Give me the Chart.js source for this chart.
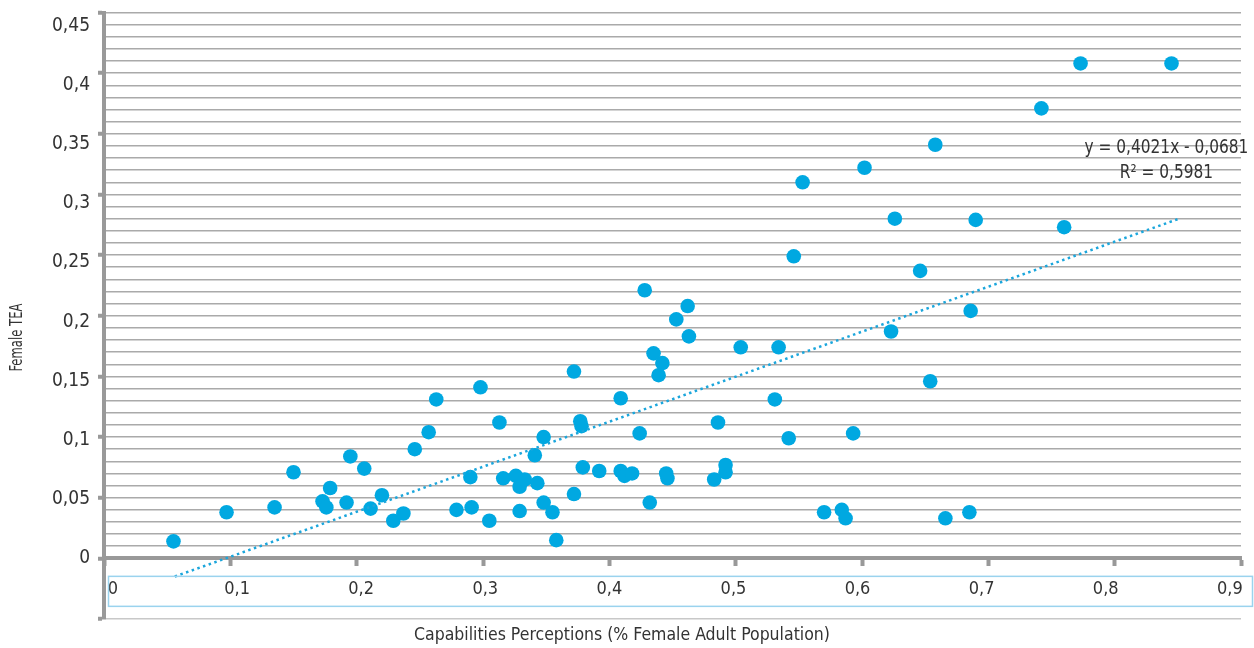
<!DOCTYPE html>
<html>
<head>
<meta charset="utf-8">
<script src="https://cdn.jsdelivr.net/npm/chart.js@4.4.1/dist/chart.umd.min.js"></script>
<style>
  html, body { margin: 0; padding: 0; background: #fff; }
  #wrap { width: 1254px; height: 648px; }
</style>
</head>
<body>
<div id="wrap"><canvas id="teaChart"></canvas></div>
<script>
// capabilities perceptions (x) vs female TEA (y), one entry per country
const capabilities = [
  0.055, 0.097, 0.135, 0.150, 0.173, 0.176, 0.179, 0.192, 0.195, 0.206,
  0.211, 0.220, 0.229, 0.237, 0.246, 0.257, 0.263, 0.279, 0.290, 0.291,
  0.298, 0.305, 0.313, 0.316, 0.326, 0.329, 0.329, 0.333, 0.341, 0.343,
  0.348, 0.348, 0.355, 0.358, 0.372, 0.372, 0.377, 0.378, 0.379, 0.392,
  0.409, 0.409, 0.412, 0.418, 0.424, 0.428, 0.432, 0.435, 0.439, 0.442,
  0.445, 0.446, 0.453, 0.462, 0.463, 0.483, 0.486, 0.492, 0.492, 0.504,
  0.531, 0.534, 0.542, 0.546, 0.553, 0.570, 0.584, 0.587, 0.593, 0.602,
  0.623, 0.626, 0.646, 0.654, 0.658, 0.666, 0.685, 0.686, 0.690, 0.742,
  0.760, 0.773, 0.845
];
const femaleTEA = [
  0.014, 0.038, 0.042, 0.071, 0.047, 0.042, 0.058, 0.046, 0.084, 0.074,
  0.041, 0.052, 0.031, 0.037, 0.090, 0.104, 0.131, 0.040, 0.067, 0.042,
  0.141, 0.031, 0.112, 0.066, 0.068, 0.059, 0.039, 0.065, 0.085, 0.062,
  0.100, 0.046, 0.038, 0.015, 0.154, 0.053, 0.113, 0.109, 0.075, 0.072,
  0.132, 0.072, 0.068, 0.070, 0.103, 0.221, 0.046, 0.169, 0.151, 0.161,
  0.070, 0.066, 0.197, 0.208, 0.183, 0.065, 0.112, 0.071, 0.077, 0.174,
  0.131, 0.174, 0.099, 0.249, 0.310, 0.038, 0.040, 0.033, 0.103, 0.322,
  0.187, 0.280, 0.237, 0.146, 0.341, 0.033, 0.038, 0.204, 0.279, 0.371,
  0.273, 0.408, 0.408
];

// trend line as drawn in the source chart
const trendX = [0.056, 0.851];
const trendY = [-0.015, 0.280];
const equationText = ['y = 0,4021x - 0,0681', 'R² = 0,5981'];

// tick label values (the printed labels sit on a slightly different spacing than the tick marks)
const xTickLabels = [0, 0.1, 0.2, 0.3, 0.4, 0.5, 0.6, 0.7, 0.8, 0.9];
const yTickLabels = [0, 0.05, 0.1, 0.15, 0.2, 0.25, 0.3, 0.35, 0.4, 0.45];

const xTitle = 'Capabilities Perceptions (% Female Adult Population)';
const yTitle = 'Female TEA';

const FONT = "'Liberation Sans Narrow', 'DejaVu Sans Condensed', sans-serif";
const comma = v => String(Math.round(v * 100) / 100).replace('.', ',');

const decor = {
  id: 'decor',
  afterDraw(chart) {
    const { ctx } = chart;
    const xs = chart.scales.x, ys = chart.scales.y;
    const x0 = xs.getPixelForValue(0), x9 = xs.getPixelForValue(0.9);
    const y0 = ys.getPixelForValue(0);
    ctx.save();
    // box around the x tick labels
    ctx.strokeStyle = '#9ad3ee';
    ctx.lineWidth = 1.5;
    ctx.strokeRect(x0 + 4.5, y0 + 18, x9 - x0 + 7, 30);
    ctx.fillStyle = '#333';
    ctx.textAlign = 'center';
    ctx.textBaseline = 'middle';
    // regression text (narrow face)
    ctx.save();
    ctx.font = '19px ' + FONT;
    ctx.translate(xs.getPixelForValue(0.841), 0);
    ctx.scale(0.9, 1);
    ctx.fillText(equationText[0], 0, ys.getPixelForValue(0.338));
    ctx.fillText(equationText[1], 0, ys.getPixelForValue(0.318));
    ctx.restore();
    // x axis title
    ctx.font = '17.5px ' + FONT;
    ctx.fillText(xTitle, xs.getPixelForValue(0.41), 635);
    // y axis title
    ctx.font = '17px ' + FONT;
    ctx.translate(18, ys.getPixelForValue(0.182));
    ctx.rotate(-Math.PI / 2);
    ctx.scale(0.76, 1);
    ctx.fillText(yTitle, 0, 0);
    ctx.restore();
  }
};

new Chart(document.getElementById('teaChart'), {
  type: 'scatter',
  data: {
    datasets: [{
      type: 'line',
      data: trendX.map((x, i) => ({ x: x, y: trendY[i] })),
      borderColor: '#1ba6dc',
      borderWidth: 2.5,
      borderDash: [2.5, 3.5],
      pointRadius: 0,
      fill: false
    }, {
      data: capabilities.map((x, i) => ({ x: x, y: femaleTEA[i] })),
      backgroundColor: '#00a8e1',
      borderWidth: 0,
      pointRadius: 7.3,
      pointHoverRadius: 7.3
    }]
  },
  options: {
    responsive: true,
    maintainAspectRatio: false,
    animation: false,
    devicePixelRatio: 1,
    layout: { padding: { top: 12.5, right: 13, bottom: 29, left: 0 } },
    plugins: { legend: { display: false }, tooltip: { enabled: false } },
    scales: {
      x: {
        type: 'linear',
        min: 0,
        max: 0.9,
        position: { y: 0 },
        ticks: { stepSize: 0.1, display: false },
        grid: { drawOnChartArea: false, drawTicks: true, tickLength: 6, tickWidth: 4, tickColor: '#999' },
        border: { display: true, color: '#999', width: 4 }
      },
      // labels only
      xl: {
        type: 'linear',
        axis: 'x',
        min: -0.00725,
        max: 0.909,
        position: { y: 0 },
        afterBuildTicks: s => { s.ticks = xTickLabels.map(v => ({ value: v })); },
        afterFit: s => { s.paddingLeft = 0; s.paddingRight = 0; },
        ticks: {
          padding: 20,
          maxRotation: 0,
          autoSkip: false,
          color: '#333',
          font: { family: FONT, size: 18 },
          callback: v => comma(v)
        },
        grid: { display: false, drawTicks: false },
        border: { display: false }
      },
      y: {
        type: 'linear',
        min: -0.05,
        max: 0.45,
        weight: 0,
        afterFit: s => { s.width = 0; s.paddingTop = 0; s.paddingBottom = 0; },
        ticks: { stepSize: 0.01, autoSkip: false, display: false },
        grid: {
          lineWidth: 1.5,
          color: c => {
            const k = Math.round(c.tick.value * 100);
            if (k === -5) return '#c8c8c8';
            return k < 0 ? 'rgba(0,0,0,0)' : '#aaaaaa';
          },
          tickLength: 6,
          tickWidth: 4,
          tickColor: c => {
            const k = Math.round(c.tick.value * 100);
            return (k % 5 === 0 && k >= -5) ? '#999' : 'rgba(0,0,0,0)';
          }
        },
        border: { display: true, color: '#999', width: 4 }
      },
      // labels only
      yl: {
        type: 'linear',
        axis: 'y',
        position: 'left',
        weight: 1,
        min: -0.0511,
        max: 0.4612,
        afterFit: s => { s.width = 104; s.paddingTop = 0; s.paddingBottom = 0; },
        afterBuildTicks: s => { s.ticks = yTickLabels.map(v => ({ value: v })); },
        ticks: {
          padding: 14,
          autoSkip: false,
          color: '#333',
          font: { family: FONT, size: 19 },
          callback: v => comma(v)
        },
        grid: { display: false, drawTicks: false },
        border: { display: false }
      }
    }
  },
  plugins: [decor]
});
</script>
</body>
</html>
